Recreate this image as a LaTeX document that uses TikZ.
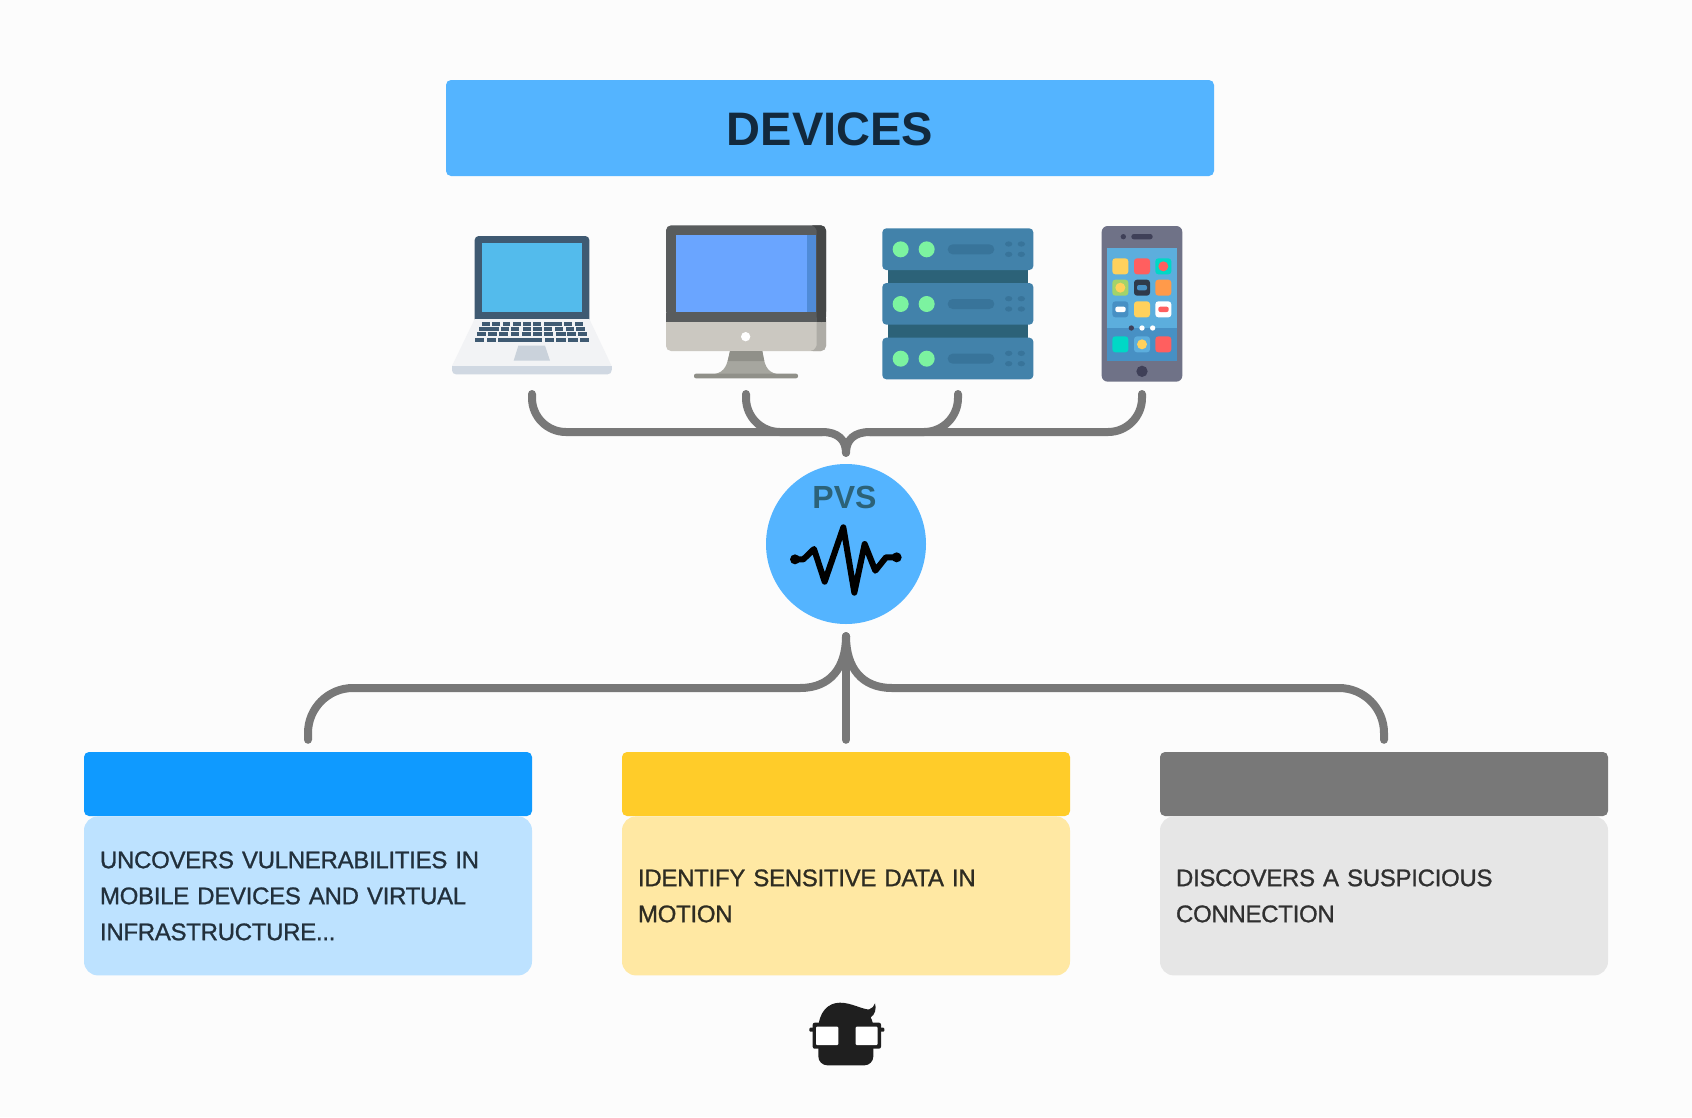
\documentclass[tikz,border=0pt]{standalone}
\usepackage{fontspec}
\setmainfont{Liberation Sans}
\newfontfamily\bodyfont[FakeBold=1,LetterSpace=-1.2,WordSpace=0.6]{Liberation Sans}
\usetikzlibrary{positioning}
\definecolor{pagebg}{HTML}{FCFCFC}
\definecolor{skyblue}{HTML}{54B4FF}
\definecolor{titleink}{HTML}{12293D}
\definecolor{linkgray}{HTML}{787878}
\definecolor{darkslate}{HTML}{3F5A72}
\definecolor{rackblue}{HTML}{4282AA}
\definecolor{rackdark}{HTML}{2C6278}
\definecolor{rackpill}{HTML}{38749A}
\definecolor{ledgreen}{HTML}{7CF3A0}
\definecolor{appyellow}{HTML}{FFD15C}
\definecolor{appred}{HTML}{FF5F5F}
\definecolor{appteal}{HTML}{00D8C6}
\definecolor{appsky}{HTML}{5CAEDD}
\definecolor{appblue}{HTML}{4790C4}
\definecolor{appgreen}{HTML}{A3D36A}
\definecolor{apporange}{HTML}{FF9A4A}
\definecolor{appnavy}{HTML}{2F3A4A}
\definecolor{phonegray}{HTML}{6F7287}
\definecolor{phoneink}{HTML}{3F4058}
\definecolor{monitordark}{HTML}{595C5D}
\definecolor{monitorshade}{HTML}{454747}
\definecolor{chin}{HTML}{CBC8C1}
\definecolor{chinshade}{HTML}{AEACA6}
\definecolor{standlight}{HTML}{A6A69F}
\definecolor{standdark}{HTML}{909089}
\definecolor{screenblue}{HTML}{6AA5FF}
\definecolor{screenshade}{HTML}{4F8BD8}
\definecolor{laptopscreen}{HTML}{53BBEC}
\definecolor{laptopbase}{HTML}{F2F3F5}
\definecolor{laptopedge}{HTML}{D0D8E2}
\def\boxwidth{448pt}

\begin{document}
\begin{tikzpicture}[x=1pt,y=-1pt,node distance=1pt]
    \tikzstyle{link}=[draw=linkgray,line width=8pt,line cap=round]
    \tikzstyle{head}=[rounded corners=5pt,minimum width=\boxwidth,minimum height=64pt,inner sep=0pt]
    \tikzstyle{body}=[rounded corners=14pt,minimum width=\boxwidth,minimum height=159pt,inner sep=0pt,
        text width=416pt,align=left,font=\bodyfont\fontsize{24}{36}\selectfont]
    \tikzstyle{key}=[fill=darkslate]
    \tikzstyle{app}=[rounded corners=3pt]

    \path[use as bounding box,fill=pagebg] (0,0) rectangle (1692,1117);

    % Draw the title and the hub
    \node[fill=skyblue,rounded corners=5pt,minimum width=768pt,minimum height=96pt,inner sep=0pt] (title) at (830,128) {};
    \node[font=\bfseries\fontsize{47}{47}\selectfont,text=titleink,inner sep=0pt] (title-label) at (830,129) {DEVICES};
    \node[circle,fill=skyblue,minimum size=160pt,inner sep=0pt] (pvs) at (846,544) {};
    \node[font=\bfseries\fontsize{32}{32}\selectfont,text=rackdark,inner sep=0pt] (pvs-label) at (844.5,497) {PVS};

    % Draw the three boxes
    \foreach \name/\x/\headcol/\bodycol/\textcol/\txt in {
        1/308/0F9AFF/BDE2FF/22303C/{UNCOVERS VULNERABILITIES IN\\MOBILE DEVICES AND VIRTUAL\\INFRASTRUCTURE...},
        2/846/FFCC29/FFE8A3/2E2C22/{IDENTIFY SENSITIVE DATA IN\\MOTION},
        3/1384/787878/E6E6E6/303030/{DISCOVERS A SUSPICIOUS\\CONNECTION}} {
        \definecolor{headcol}{HTML}{\headcol}
        \definecolor{bodycol}{HTML}{\bodycol}
        \definecolor{textcol}{HTML}{\textcol}
        \node[head,fill=headcol] (head-\name) at (\x,784) {};
        \node[body,fill=bodycol,text=textcol,below=0pt of head-\name] (box-\name) {\txt};
        \coordinate[above=12pt of head-\name] (out-\name);
    }

    % Connect the devices with the hub
    \coordinate (pin-laptop) at (532,394);
    \coordinate (pin-monitor) at (746,394);
    \coordinate (pin-server) at (958,394);
    \coordinate (pin-phone) at (1142,394);
    \coordinate[above=11pt of pvs] (hub-in);
    \coordinate (join-left) at (822,432);
    \coordinate (join-right) at (870,432);
    \foreach \source/\join in {laptop/join-left,monitor/join-left,server/join-right,phone/join-right}
        \draw[link,rounded corners=34pt] (pin-\source) |- (\join);
    \draw[link] (join-left) .. controls (838,432) and (846,440) .. (hub-in);
    \draw[link] (join-right) .. controls (854,432) and (846,440) .. (hub-in);

    % Connect the hub with the boxes
    \coordinate[below=12pt of pvs] (hub-out);
    \coordinate (split-left) at (800,688);
    \coordinate (split-right) at (892,688);
    \draw[link,rounded corners=45pt] (out-1) |- (split-left);
    \draw[link,rounded corners=45pt] (out-3) |- (split-right);
    \draw[link] (split-left) .. controls (830,688) and (846,668) .. (hub-out);
    \draw[link] (split-right) .. controls (862,688) and (846,668) .. (hub-out);
    \draw[link] (hub-out) -- (out-2);

    % The pulse inside the hub
    \begin{scope}[shift={(740,440)},scale=1/3]
        \draw[line width=6pt,line join=round,line cap=round] (165,358) -- (190,358) -- (222,327) -- (254,425) -- (310,262)
            -- (343,458) -- (374,312) -- (406,392) -- (438,352) -- (470,352);
        \fill (165,358) circle (15) (470,352) circle (15);
    \end{scope}

    % Laptop and monitor
    \begin{scope}[shift={(430,200)},scale=1/3]
        \fill[darkslate,rounded corners=4pt] (134,108) rectangle (478,370);
        \fill[laptopbase] (134,357) -- (478,357) -- (545,498) -- (66,498) -- cycle;
        \fill[laptopscreen] (155,130) rectangle (457,337);
        \fill[laptopedge,rounded corners=4pt] (66,500) rectangle (545,523);
        \fill[laptopedge] (66,498) rectangle (545,510);
        \fill[laptopedge!97!black] (265,437) -- (345,437) -- (360,482) -- (251,482) -- cycle;
        \foreach \a/\b in {155/180,187/210,218/241,248/272,279/303,310/334,341/396,403/427,434/458}
            \fill[key] (\a,367) rectangle (\b,377);
        \foreach \a/\b in {148/206,212/237,243/268,278/303,310/335,342/367,375/400,407/432,438/464}
            \fill[key] (\a,381) rectangle (\b,392);
        \foreach \a/\b in {141/168,175/202,208/235,243/268,277/303,310/335,343/368,378/407,410/437,444/472}
            \fill[key] (\a,396) rectangle (\b,409);
        \foreach \a/\b in {134/162,170/197,205/337,345/371,378/407,414/443,450/478}
            \fill[key] (\a,413) rectangle (\b,426);

        \fill[chin,rounded corners=5pt] (708,340) rectangle (1188,453);
        \fill[chinshade,rounded corners=5pt] (1130,340) -- (1188,340) -- (1188,453) -- (1135,453) .. controls (1152,450) and (1160,440) .. (1160,420) -- (1160,340) -- cycle;
        \fill[monitordark,rounded corners=5pt] (708,76) rectangle (1188,350);
        \fill[monitordark] (708,340) rectangle (1188,366);
        \fill[monitorshade,rounded corners=5pt] (1138,76) .. controls (1155,80) and (1160,90) .. (1160,106) -- (1160,366) -- (1188,366) -- (1188,76) -- cycle;
        \fill[monitorshade] (1160,340) rectangle (1188,366);
        \fill[screenblue] (737,106) rectangle (1159,337);
        \fill[screenshade] (1130,106) rectangle (1159,337);
        \fill[white] (947,410) circle (14);
        \fill[standlight] (900,453) -- (997,453) .. controls (1003,495) and (1010,515) .. (1040,522) -- (855,522) .. controls (885,515) and (892,495) .. (900,453) -- cycle;
        \fill[standdark] (900,453) -- (997,453) -- (1003,483) -- (893,483) -- cycle;
        \fill[standdark,rounded corners=2pt] (792,521) rectangle (1104,535);
    \end{scope}

    % Server and phone
    \begin{scope}[shift={(850,200)},scale=1/3]
        \fill[rackdark] (113,200) rectangle (534,420);
        \foreach \dy in {0,164,328} {
            \fill[rackblue,rounded corners=4pt] (97,85+\dy) rectangle (550,210+\dy);
            \fill[ledgreen] (152,148+\dy) circle (24) (230,148+\dy) circle (24);
            \fill[rackpill,rounded corners=5pt] (293,133+\dy) rectangle (433,163+\dy);
            \foreach \px in {476,514}
                \fill[rackpill] (\px,132+\dy) ellipse (11 and 8) (\px,163+\dy) ellipse (11 and 8);
        }
        \fill[phonegray,rounded corners=6pt] (755,78) rectangle (997,545);
        \fill[appsky] (771,143) rectangle (981,482);
        \fill[appblue] (771,385) rectangle (981,482);
        \fill[phoneink] (820,110) circle (8) (876,514) circle (17);
        \fill[phoneink,rounded corners=2.5pt] (844,102) rectangle (908,118);
        \foreach \ax/\ay/\col in {811/199/appyellow,876/199/appred,940/199/appteal,811/263/appgreen,876/263/appnavy,
            940/263/apporange,811/328/appblue,876/328/appyellow,940/328/white,811/433/appteal,876/433/appsky,940/433/appred}
            \fill[app,\col] (\ax-24,\ay-24) rectangle (\ax+24,\ay+24);
        \fill[appred] (940,199) circle (15);
        \fill[appyellow] (811,263) circle (15) (876,433) circle (15);
        \fill[appblue,rounded corners=2pt] (861,255) rectangle (891,271);
        \fill[white,rounded corners=2pt] (796,320) rectangle (827,336);
        \fill[appred,rounded corners=2pt] (925,320) rectangle (956,336);
        \fill[phoneink] (844,384) circle (8);
        \fill[white] (876,384) circle (8) (908,384) circle (8);
    \end{scope}

    % The head at the bottom
    \begin{scope}[shift={(780,980)},scale=1/3]
        \fill[black!88] (115,150) .. controls (115,95) and (145,68) .. (180,68) .. controls (215,68) and (250,90) .. (268,88)
            .. controls (277,85) and (282,78) .. (285,70) .. controls (290,85) and (285,105) .. (272,112)
            .. controls (279,125) and (280,135) .. (280,150) -- cycle;
        \fill[black!88,rounded corners=9pt] (115,140) rectangle (280,256);
        \fill[black!88,rounded corners=2pt] (98,128) rectangle (303,206);
        \fill[black!88,rounded corners=1pt] (88,143) rectangle (313,155);
        \fill[white,rounded corners=1pt] (108,140) rectangle (175,195);
        \fill[white,rounded corners=1pt] (227,140) rectangle (293,195);
    \end{scope}
\end{tikzpicture}
\end{document}
